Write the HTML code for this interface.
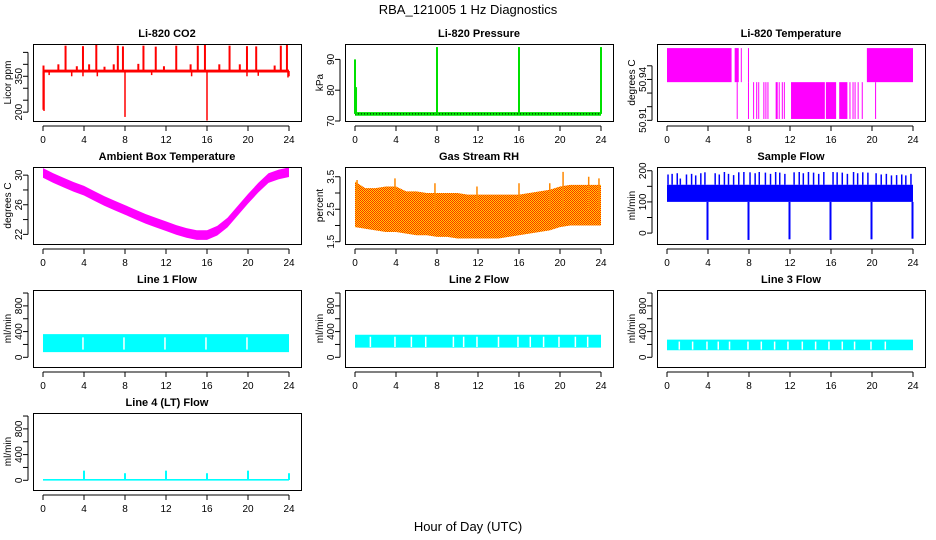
<!DOCTYPE html>
<html><head><meta charset="utf-8"><style>
body{margin:0;background:#fff}
svg{display:block;font-family:"Liberation Sans",sans-serif}
</style></head><body>
<svg id="c" width="936" height="540" xmlns="http://www.w3.org/2000/svg">
<text x="468" y="14" text-anchor="middle" font-size="13">RBA_121005  1 Hz Diagnostics</text>
<text x="468" y="531" text-anchor="middle" font-size="13">Hour of Day (UTC)</text>
<defs><pattern id="rhpat" width="2" height="2" patternUnits="userSpaceOnUse"><rect width="2" height="2" fill="#ffd400"/><rect width="1" height="1" fill="#ff2a00"/><rect x="1" y="1" width="1" height="1" fill="#ff2a00"/></pattern></defs>
</svg>
<script>
// ---- data arrays ----
const xTicks = [0,4,8,12,16,20,24];
const hours = [0,1,2,3,4,5,6,7,8,9,10,11,12,13,14,15,16,17,18,19,20,21,22,23,24];
// CO2
const co2Base = 372;
const co2SpikeHours = [0.05,2.2,3.9,5.2,7.3,7.8,9.8,11.0,13.0,15.1,15.8,18.2,19.9,20.8,23.2,23.8];
const co2SpikeVals = [395,478,476,482,478,475,478,474,478,478,482,478,476,475,478,482];
const co2SmallHours = [1.5,3.3,4.5,6.0,6.9,9.3,11.8,14.4,17.2,19.2,22.6];
const co2SmallVals = [400,392,400,390,400,402,392,400,400,400,395];
const co2DipHours = [0.02,0.1,8.0,16.0,0.6,2.8,3.9,5.3,10.6,14.5,19.9,21.0,23.9,24.0];
const co2DipVals = [210,205,180,165,355,350,350,350,355,350,350,352,345,350];
// Pressure
const presBase = 72.3;
const presSpikeHours = [0,0.1,8,16,24];
const presSpikeVals = [90,81,94,94,94];
// Li-820 temperature
const tHighStart = [0,6.6,19.5,7.2,7.9];
const tHighEnd = [6.3,7.0,24,7.25,7.95];
const tLowStart = [12.1,15.5,16.8,6.8,7.9,8.4,8.7,8.9,9.4,9.6,9.8,10.6,10.9,11.2,11.4,17.8,18.1,18.3,18.6,19.0,20.3];
const tLowEnd = [15.4,16.5,17.6,6.85,7.95,8.45,8.8,8.95,9.5,9.65,9.85,10.8,10.95,11.3,11.45,17.9,18.15,18.35,18.65,19.1,20.4];
const tHigh = 50.963, tMid = 50.938, tLow = 50.911;
// Ambient box temperature
const ambMid = [30.3,29.6,29.0,28.4,27.9,27.2,26.5,25.9,25.3,24.7,24.1,23.6,23.1,22.6,22.2,21.9,21.9,22.5,23.6,25.2,26.8,28.3,29.6,30.1,30.4];
const ambHalf = 0.65;
// RH
const rhLo = [1.95,1.9,1.85,1.8,1.8,1.75,1.7,1.7,1.65,1.65,1.6,1.6,1.6,1.6,1.6,1.65,1.7,1.75,1.8,1.85,1.95,2.0,2.0,2.0,2.0];
const rhHi = [3.35,3.15,3.15,3.2,3.2,3.05,3.05,3.0,3.0,3.0,3.0,2.95,2.95,2.95,2.95,2.95,2.95,3.0,3.05,3.1,3.2,3.25,3.25,3.25,3.25];
const rhSpikeHours = [0.2,3.9,7.8,11.9,16.0,19.0,20.3,22.8,23.8];
const rhSpikeVals = [3.4,3.45,3.3,3.2,3.3,3.3,3.65,3.5,3.45];
// Sample flow
const sfLo = 100, sfHi = 155;
const sfSpikeHours = [0.1,0.5,1.0,1.3,1.9,2.4,2.8,3.3,3.7,4.7,5.1,5.6,6.0,6.5,7.0,7.5,8.1,8.6,9.0,9.6,10.1,10.6,11.0,11.5,12.4,12.9,13.3,13.8,14.3,14.8,15.3,16.2,16.6,17.1,17.6,18.2,18.6,19.1,19.6,20.4,20.9,21.4,21.9,22.4,22.9,23.3,23.8];
const sfSpikeVals = [188,190,192,175,188,190,185,192,195,192,188,196,190,186,195,196,195,192,196,194,190,196,194,190,195,196,192,196,194,190,196,196,195,194,190,196,192,195,194,192,188,190,185,186,188,185,190];
const sfDropHours = [3.95,7.95,11.95,15.95,19.95,23.95];
const sfDropVals = [-22,-22,-20,-22,-20,-18];
// Line flows
const l1Lo = 80, l1Hi = 360, l1Gaps = [3.9,7.9,11.9,15.9,19.9];
const l2Lo = 150, l2Hi = 350, l2Gaps = [1.5,3.9,5.5,6.9,9.6,10.6,11.9,14.0,15.9,17.1,18.4,19.9,21.5,22.7];
const l3Lo = 110, l3Hi = 275, l3Gaps = [1.2,2.5,3.9,5.0,6.1,7.9,9.2,10.5,11.8,13.2,14.5,15.8,17.1,18.3,19.9,21.3];
const l4Base = 5;
const l4SpikeHours = [4,8,12,16,20,24];
const l4SpikeVals = [150,110,150,110,150,110];

// ---- drawing ----
const svg = document.getElementById('c');
const NS = 'http://www.w3.org/2000/svg';
function mk(tag, at, parent){const e=document.createElementNS(NS,tag);for(const k in at)e.setAttribute(k,at[k]);(parent||svg).appendChild(e);return e;}

function panel(col,row,title,ylab,ymin,ymax,yt,ylabels,name){
  const x0=33+312*col, x1=x0+268, y0=44+123*row, y1=y0+77;
  const g=mk('g',{});
  
  
  const sx=h=>x0+10+h*10.25;
  const sy=v=>y1-(v-ymin)/(ymax-ymin)*77;
  const t=mk('text',{x:(x0+x1)/2,y:y0-7,'text-anchor':'middle','font-size':11,'font-weight':'bold'},g);
  t.textContent=title;
  
  
  const yl=mk('text',{x:0,y:0,'text-anchor':'middle','font-size':10,transform:`translate(${x0-22},${(y0+y1)/2}) rotate(-90)`},g);
  yl.textContent=ylab;
  
  
  const dg=mk('g',{},g);
  mk('line',{x1:sx(0),x2:sx(24),y1:y1+5,y2:y1+5,stroke:'#000'},g);
  xTicks.forEach(h=>{
    mk('line',{x1:sx(h),x2:sx(h),y1:y1+5,y2:y1+10,stroke:'#000'},g);
    const tl=mk('text',{x:sx(h),y:y1+22,'text-anchor':'middle','font-size':10},g);
    tl.textContent=h;
    
    
  });
  mk('line',{x1:x0-5,x2:x0-5,y1:sy(yt[0]),y2:sy(yt[yt.length-1]),stroke:'#000'},g);
  yt.forEach((v,i)=>{
    mk('line',{x1:x0-10,x2:x0-5,y1:sy(v),y2:sy(v),stroke:'#000'},g);
    if(ylabels[i]){
      const tl=mk('text',{x:0,y:0,'text-anchor':'middle','font-size':10,transform:`translate(${x0-11},${sy(v)}) rotate(-90)`},g);
      tl.textContent=ylabels[i];
      
      
    }
  });
  mk('rect',{x:x0+0.5,y:y0+0.5,width:268,height:77,fill:'none',stroke:'#000'},g);
  return {sx,sy,g:dg,x0,x1,y0,y1};
}
function vline(p,h,a,b,col,w,name){
  const l=mk('line',{x1:p.sx(h),x2:p.sx(h),y1:p.sy(a),y2:p.sy(b),stroke:col,'stroke-width':w||1.5},p.g);
  
  
}
function band(p,lo,hi,fill,name){
  let pts=hours.map((h,i)=>p.sx(h)+','+p.sy(hi[i]));
  pts=pts.concat(hours.slice().reverse().map((h,j)=>p.sx(h)+','+p.sy(lo[hours.length-1-j])));
  const pg=mk('polygon',{points:pts.join(' '),fill:fill},p.g);
  
  
}
function constArr(v){return hours.map(()=>v);}

let p=panel(0,0,'Li-820 CO2','Licor ppm',163,485,[200,250,300,350,400,450],['200','','','350','',''],'co2');
co2SpikeHours.forEach((h,i)=>vline(p,h,co2Base,co2SpikeVals[i],'#f00',2,'co2-spike'));
co2SmallHours.forEach((h,i)=>vline(p,h,co2Base,co2SmallVals[i],'#f00',2,'co2-small-spike'));
co2DipHours.forEach((h,i)=>vline(p,h,co2Base,co2DipVals[i],'#f00',1.5,'co2-dip'));
band(p,constArr(co2Base-6),constArr(co2Base+6),'#f00','co2-baseline');

p=panel(1,0,'Li-820 Pressure','kPa',70,95,[70,80,90],['70','80','90'],'pressure');
band(p,constArr(presBase-0.6),constArr(presBase+0.6),'#00e000','pressure-baseline');
mk('line',{x1:p.sx(0),x2:p.sx(24),y1:p.sy(presBase),y2:p.sy(presBase),stroke:'#000','stroke-dasharray':'1,2'},p.g);
presSpikeHours.forEach((h,i)=>vline(p,h,presBase,presSpikeVals[i],'#00e000',2,'pressure-spike'));

p=panel(2,0,'Li-820 Temperature','degrees C',50.9095,50.966,[50.91,50.92,50.93,50.94,50.95],['50.91','','','50.94',''],'li820-temp');
tHighStart.forEach((s,i)=>{const r=mk('rect',{x:p.sx(s),y:p.sy(tHigh),width:Math.max(1,p.sx(tHighEnd[i])-p.sx(s)),height:p.sy(tMid)-p.sy(tHigh),fill:'#f0f'},p.g);
  
  });
tLowStart.forEach((s,i)=>{const r=mk('rect',{x:p.sx(s),y:p.sy(tMid),width:Math.max(1,p.sx(tLowEnd[i])-p.sx(s)),height:p.sy(tLow)-p.sy(tMid),fill:'#f0f'},p.g);
  
  });

p=panel(0,1,'Ambient Box Temperature','degrees C',20.7,31.1,[22,24,26,28,30],['22','','26','','30'],'ambient-temp');
band(p,ambMid.map(v=>v-ambHalf),ambMid.map(v=>v+ambHalf),'#f0f','ambient-band');

p=panel(1,1,'Gas Stream RH','percent',1.43,3.8,[1.5,2,2.5,3,3.5],['1.5','','2.5','','3.5'],'rh');
band(p,rhLo,rhHi,'url(#rhpat)','rh-band');
rhSpikeHours.forEach((h,i)=>vline(p,h,2.5,rhSpikeVals[i],'#f80',1.5,'rh-spike'));

p=panel(2,1,'Sample Flow','ml/min',-35,212,[0,50,100,150,200],['0','','100','','200'],'sample-flow');
band(p,constArr(sfLo),constArr(sfHi),'#00f','sample-flow-band');
sfSpikeHours.forEach((h,i)=>vline(p,h,sfHi,sfSpikeVals[i],'#00f',1.5,'sample-flow-spike'));
sfDropHours.forEach((h,i)=>vline(p,h,sfLo,sfDropVals[i],'#00f',2,'sample-flow-drop'));

const fT=[0,200,400,600,800,1000], fL=['0','','400','','800',''];
p=panel(0,2,'Line 1 Flow','ml/min',-151,1047,fT,fL,'line1-flow');
band(p,constArr(l1Lo),constArr(l1Hi),'#0ff','line1-band');
l1Gaps.forEach(h=>vline(p,h,l1Lo+40,l1Hi-50,'#fff',1.5,'line1-gap'));
p=panel(1,2,'Line 2 Flow','ml/min',-151,1047,fT,fL,'line2-flow');
band(p,constArr(l2Lo),constArr(l2Hi),'#0ff','line2-band');
l2Gaps.forEach(h=>vline(p,h,l2Lo+10,l2Hi-30,'#fff',1.5,'line2-gap'));
p=panel(2,2,'Line 3 Flow','ml/min',-151,1047,fT,fL,'line3-flow');
band(p,constArr(l3Lo),constArr(l3Hi),'#0ff','line3-band');
l3Gaps.forEach(h=>vline(p,h,l3Lo+10,l3Hi-30,'#fff',1.5,'line3-gap'));
p=panel(0,3,'Line 4 (LT) Flow','ml/min',-151,1047,fT,fL,'line4-flow');
band(p,constArr(l4Base-10),constArr(l4Base+15),'#0ff','line4-baseline');
l4SpikeHours.forEach((h,i)=>vline(p,h,l4Base,l4SpikeVals[i],'#0ff',2,'line4-spike'));
</script>
</body></html>
